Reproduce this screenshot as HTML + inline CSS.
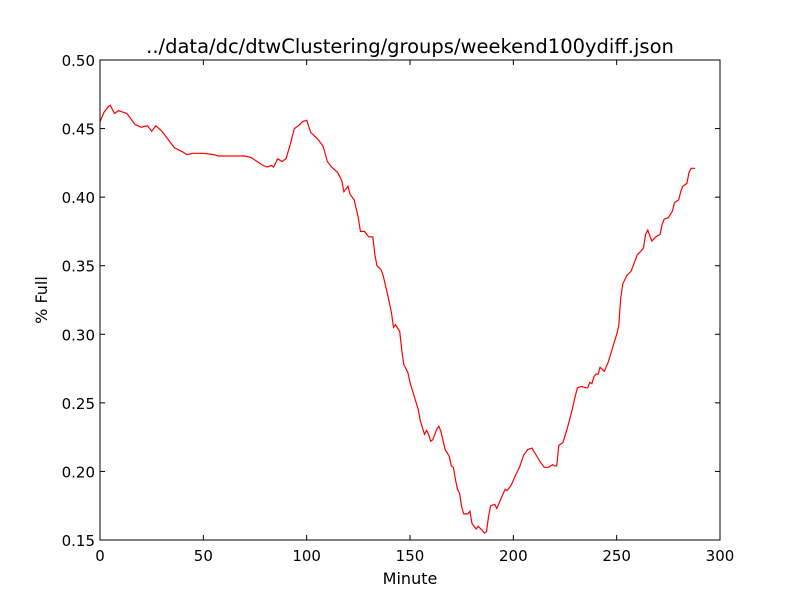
<!DOCTYPE html>
<html><head><meta charset="utf-8"><style>
body{margin:0;background:#fff;}
svg text{font-family:"DejaVu Sans","Liberation Sans",sans-serif;fill:#000;}
</style></head><body>
<svg id="chart" width="800" height="600" xmlns="http://www.w3.org/2000/svg">
<rect width="800" height="600" fill="#fff"/>
<text x="410" y="53" font-size="19.5" text-anchor="middle">../data/dc/dtwClustering/groups/weekend100ydiff.json</text>
<g id="ticks"></g>
<path id="series" fill="none" stroke="#ff0000" stroke-width="1.2"/>
<rect x="100" y="60" width="620" height="480" fill="none" stroke="#000" stroke-width="1"/>
<text x="410" y="584" font-size="16" text-anchor="middle">Minute</text>
<text x="47" y="300" font-size="16" text-anchor="middle" transform="rotate(-90 47 300)">% Full</text>
</svg>
<script>
const minutes=[0,2,4,5,7,9,11,13,15,17,20,23,25,27,30,33,36,40,42,45,50,55,57,60,65,70,73,76,79,81,83,84,86,88,90,92,94,96,98,100,102,105,108,110,112,115,117,118,120,121,123,125,126,128,130,132,133,134,136,137,139,141,142,143,145,146,147,149,150,152,154,155,157,158,159,160,161,163,164,165,167,169,170,171,172,173,174,175,176,178,179,180,182,183,185,186,187,188,189,191,192,194,196,197,199,201,203,205,207,209,211,213,215,217,219,220,221,222,224,226,228,230,231,233,235,236,237,238,239,240,241,242,244,246,248,250,251,252,253,255,257,258,260,262,263,264,265,267,269,271,272,273,275,277,278,280,281,282,284,285,286,288];
const fullValues=[0.455,0.462,0.466,0.467,0.461,0.463,0.462,0.461,0.457,0.453,0.451,0.452,0.448,0.452,0.448,0.442,0.436,0.433,0.431,0.432,0.432,0.431,0.430,0.430,0.430,0.430,0.429,0.426,0.423,0.422,0.423,0.422,0.428,0.426,0.428,0.438,0.450,0.452,0.455,0.456,0.447,0.443,0.437,0.426,0.422,0.418,0.412,0.404,0.408,0.402,0.398,0.385,0.375,0.375,0.371,0.371,0.358,0.350,0.347,0.343,0.330,0.316,0.305,0.307,0.302,0.289,0.278,0.272,0.265,0.255,0.245,0.237,0.227,0.230,0.227,0.222,0.223,0.231,0.233,0.229,0.216,0.211,0.204,0.203,0.194,0.187,0.184,0.174,0.169,0.169,0.171,0.162,0.158,0.160,0.157,0.155,0.156,0.167,0.175,0.176,0.173,0.180,0.187,0.186,0.190,0.197,0.203,0.212,0.216,0.217,0.212,0.207,0.203,0.203,0.205,0.204,0.204,0.219,0.221,0.231,0.242,0.255,0.261,0.262,0.261,0.261,0.265,0.264,0.269,0.271,0.271,0.276,0.273,0.280,0.290,0.300,0.306,0.327,0.337,0.343,0.346,0.350,0.358,0.361,0.363,0.373,0.376,0.368,0.371,0.373,0.380,0.384,0.385,0.390,0.396,0.398,0.404,0.408,0.410,0.418,0.421,0.421];
const xTicks=[0,50,100,150,200,250,300];
const yTicks=[0.15,0.20,0.25,0.30,0.35,0.40,0.45,0.50];
const X0=100,X1=720,Y0=540,Y1=60,xMin=0,xMax=300,yMin=0.15,yMax=0.5;
function sx(v){return X0+(v-xMin)/(xMax-xMin)*(X1-X0);}
function sy(v){return Y0-(v-yMin)/(yMax-yMin)*(Y0-Y1);}
const NS="http://www.w3.org/2000/svg";
const g=document.getElementById('ticks');
function mk(tag,attrs){const e=document.createElementNS(NS,tag);for(const k in attrs)e.setAttribute(k,attrs[k]);return e;}
xTicks.forEach(t=>{
  const x=sx(t);
  const a=mk('line',{x1:x,x2:x,y1:Y0,y2:Y0-5,stroke:'#000'});
  
  
  g.appendChild(a);
  const b=mk('line',{x1:x,x2:x,y1:Y1,y2:Y1+5,stroke:'#000'});
  
  
  g.appendChild(b);
  const l=mk('text',{x:x,y:Y0+21,'font-size':15,'text-anchor':'middle'});
  
  
  l.textContent=t;g.appendChild(l);
});
yTicks.forEach(t=>{
  const y=sy(t);
  const a=mk('line',{x1:X0,x2:X0+5,y1:y,y2:y,stroke:'#000'});
  
  
  g.appendChild(a);
  const b=mk('line',{x1:X1,x2:X1-5,y1:y,y2:y,stroke:'#000'});
  
  
  g.appendChild(b);
  const l=mk('text',{x:X0-5,y:y+6,'font-size':15,'text-anchor':'end'});
  
  
  l.textContent=t.toFixed(2);g.appendChild(l);
});
document.getElementById('series').setAttribute('d',minutes.map((m,i)=>(i?'L':'M')+sx(m).toFixed(1)+','+sy(fullValues[i]).toFixed(1)).join(''));
</script>
</body></html>
